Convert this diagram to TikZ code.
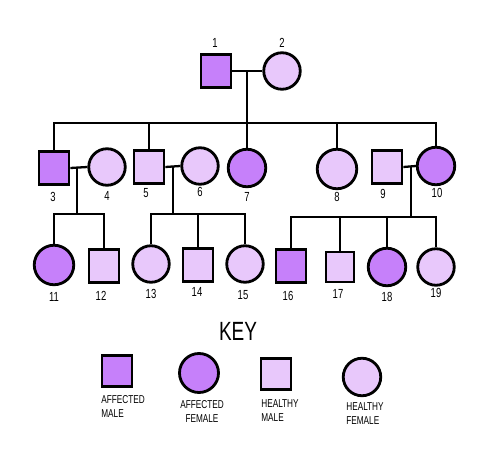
\documentclass[tikz,border=0pt]{standalone}
\usepackage{fontspec}
\newfontfamily\handfont[FakeStretch=0.72]{Liberation Sans}
\definecolor{aff}{RGB}{198,128,250}
\definecolor{hea}{RGB}{232,200,251}
\tikzset{
  person/.style={draw=black, line width=1.6pt, inner sep=0pt},
  amale/.style={person, rectangle, fill=aff, minimum width=0.60cm, minimum height=0.66cm},
  hmale/.style={person, rectangle, fill=hea, minimum width=0.60cm, minimum height=0.66cm},
  afem/.style={person, circle, fill=aff, minimum size=0.75cm},
  hfem/.style={person, circle, fill=hea, minimum size=0.73cm},
  link/.style={draw=black, line width=1.3pt},
  num/.style={font=\handfont\fontsize{7.5}{8}\selectfont, inner sep=0pt},
  keylab/.style={font=\handfont\fontsize{6.5}{8}\selectfont, inner sep=0pt, align=left, anchor=north west},
}
\begin{document}
\begin{tikzpicture}[x=0.02cm, y=-0.02cm]
\useasboundingbox (0,0) rectangle (500,462);
% generation I
\node[amale] (n1) at (216,71) {};
\node[hfem]  (n2) at (282,71) {};
% generation II
\node[amale] (n3) at (54,168) {};
\node[hfem]  (n4) at (107,167) {};
\node[hmale] (n5) at (149,167) {};
\node[hfem]  (n6) at (200,166) {};
\node[afem]  (n7) at (247,168) {};
\node[hfem, minimum size=0.79cm] (n8) at (337,169) {};
\node[hmale] (n9) at (387,167) {};
\node[afem]  (n10) at (436,166) {};
% generation III
\node[afem, minimum size=0.79cm]  (n11) at (54,265) {};
\node[hmale] (n12) at (104,266) {};
\node[hfem]  (n13) at (151,264) {};
\node[hmale] (n14) at (198,265) {};
\node[hfem]  (n15) at (245,264) {};
\node[amale] (n16) at (291,266) {};
\node[hmale, minimum width=0.56cm, minimum height=0.6cm] (n17) at (340,267) {};
\node[afem]  (n18) at (387,267) {};
\node[hfem]  (n19) at (436,267) {};
% number labels
\node[num] (l1) at (215,43) {1};
\node[num] (l2) at (282,43) {2};
\node[num] (l3) at (53,197) {3};
\node[num] (l4) at (107,196) {4};
\node[num] (l5) at (146,193) {5};
\node[num] (l6) at (200,192) {6};
\node[num] (l7) at (247,197) {7};
\node[num] (l8) at (337,197) {8};
\node[num] (l9) at (383,194) {9};
\node[num] (l10) at (437,193) {10};
\node[num] (l11) at (54,297) {11};
\node[num] (l12) at (101,296) {12};
\node[num] (l13) at (151,294) {13};
\node[num] (l14) at (197,292) {14};
\node[num] (l15) at (243,295) {15};
\node[num] (l16) at (288,296) {16};
\node[num] (l17) at (338,294) {17};
\node[num] (l18) at (387,297) {18};
\node[num] (l19) at (436,293) {19};
% junctions
\coordinate (c12) at (247,71);
\coordinate (b1) at (247,123);
\coordinate (c34) at (77,167);
\coordinate (b34) at (77,214);
\coordinate (c56) at (173,166);
\coordinate (b56) at (173,214);
\coordinate (c910) at (411,167);
\coordinate (b910) at (411,217);
% connectors
\draw[link] (n1.east) -- (n2.west);
\draw[link] (c12) -- (b1);
\draw[link] (n3.north) |- (b1) -| (n10.north);
\draw[link] (b1 -| n5) -- (n5.north);
\draw[link] (b1) -- (n7.north);
\draw[link] (b1 -| n8) -- (n8.north);
\draw[link] (n3.east) -- (n4.west);
\draw[link] (c34) -- (b34);
\draw[link] (n11.north) |- (b34) -| (n12.north);
\draw[link] (n5.east) -- (n6.west);
\draw[link] (c56) -- (b56);
\draw[link] (n13.north) |- (b56) -| (n15.north);
\draw[link] (b56 -| n14) -- (n14.north);
\draw[link] (n9.east) -- (n10.west);
\draw[link] (c910) -- (b910);
\draw[link] (n16.north) |- (b910) -| (n19.north);
\draw[link] (b910 -| n17) -- (n17.north);
\draw[link] (b910 -| n18) -- (n18.north);
% key
\node[font=\handfont\fontsize{15}{16}\selectfont, inner sep=0pt] (key) at (238,331) {KEY};
\node[amale, minimum width=0.6cm, minimum height=0.62cm] (k1) at (117,371) {};
\node[afem, minimum size=0.78cm] (k2) at (199,373) {};
\node[hmale, minimum width=0.6cm, minimum height=0.62cm] (k3) at (276,374) {};
\node[hfem, minimum size=0.75cm] (k4) at (362,377) {};
\node[keylab] (t1) at (101,395) {AFFECTED\\MALE};
\node[keylab, align=center, anchor=north] (t2) at (202,400) {AFFECTED\\FEMALE};
\node[keylab] (t3) at (261,399) {HEALTHY\\MALE};
\node[keylab] (t4) at (346,402) {HEALTHY\\FEMALE};
\end{tikzpicture}
\end{document}
